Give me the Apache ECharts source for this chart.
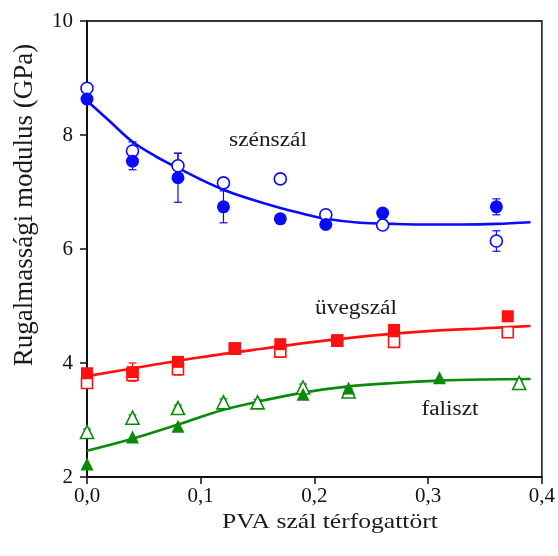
<!DOCTYPE html>
<html>
<head>
<meta charset="utf-8">
<script src="https://cdn.jsdelivr.net/npm/echarts@6/dist/echarts.min.js"></script>
<style>html,body{margin:0;padding:0;background:#fff;}#c{width:558px;height:556px;}</style>
</head>
<body>
<div id="c"></div>
<script>
// ---- data ----
const xTicks = [0, 0.1, 0.2, 0.3, 0.4];
const yTicks = [2, 4, 6, 8, 10];

const blueX = [0, 0.04, 0.08, 0.12, 0.17, 0.21, 0.26, 0.36];
const blueFilled = [8.63, 7.54, 7.25, 6.74, 6.53, 6.43, 6.63, 6.74];
const blueFilledErr = [0.05, 0.15, 0.43, 0.28, 0.06, 0.06, 0.06, 0.14];
const blueOpen = [8.82, 7.72, 7.46, 7.16, 7.23, 6.60, 6.42, 6.14];
const blueOpenErr = [0.05, 0.16, 0.22, 0.06, 0.06, 0.06, 0.08, 0.18];
const blueFitX = [0, 0.02, 0.04, 0.06, 0.08, 0.10, 0.12, 0.14, 0.17, 0.19, 0.21, 0.24, 0.27, 0.30, 0.33, 0.36, 0.39];
const blueFit = [8.60, 8.24, 7.88, 7.63, 7.42, 7.22, 7.04, 6.90, 6.72, 6.62, 6.53, 6.46, 6.44, 6.43, 6.43, 6.44, 6.47];

const redX = [0, 0.04, 0.08, 0.13, 0.17, 0.22, 0.27, 0.37];
const redFilled = [3.82, 3.84, 4.02, 4.26, 4.33, 4.40, 4.58, 4.82];
const redFilledErr = [0.05, 0.16, 0.05, 0.05, 0.05, 0.05, 0.05, 0.05];
const redOpen = [3.65, 3.79, 3.89, 4.25, 4.20, 4.39, 4.37, 4.54];
const redOpenErr = [0.05, 0.05, 0.10, 0.05, 0.05, 0.05, 0.05, 0.08];
const redFitX = [0, 0.05, 0.10, 0.15, 0.20, 0.25, 0.30, 0.35, 0.39];
const redFit = [3.77, 3.94, 4.10, 4.24, 4.37, 4.48, 4.56, 4.61, 4.65];

const greenFilledX = [0, 0.04, 0.08, 0.19, 0.23, 0.31];
const greenFilled = [2.23, 2.70, 2.89, 3.45, 3.56, 3.74];
const greenOpenX = [0, 0.04, 0.08, 0.12, 0.15, 0.19, 0.23, 0.38];
const greenOpen = [2.79, 3.04, 3.21, 3.31, 3.31, 3.57, 3.50, 3.65];
const greenOpenErr = [0.05, 0.05, 0.05, 0.06, 0.05, 0.06, 0.05, 0.05];
const greenFitX = [0, 0.04, 0.08, 0.12, 0.15, 0.19, 0.23, 0.27, 0.31, 0.35, 0.39];
const greenFit = [2.46, 2.67, 2.92, 3.18, 3.32, 3.48, 3.59, 3.65, 3.69, 3.71, 3.72];

const labels = ['szénszál', 'üvegszál', 'faliszt'];
const xTitle = 'PVA szál térfogattört';
const yTitle = 'Rugalmassági modulus (GPa)';

// ---- build ----
const BLUE = '#0a0aff', RED = '#ff1010', GREEN = '#0a8a0a';
const FONT = 'Liberation Serif';
const zip = (xs, ys) => xs.map((x, i) => [x, ys[i]]);
const zipErr = (xs, ys, es) => xs.map((x, i) => [x, ys[i] - es[i], ys[i] + es[i]]);

function errSeries(data, color) {
  return {
    type: 'custom', data: data, z: 2, silent: true,
    renderItem: function (params, api) {
      const lo = api.coord([api.value(0), api.value(1)]);
      const hi = api.coord([api.value(0), api.value(2)]);
      const w = 4;
      const st = { stroke: color, lineWidth: 1.2 };
      return { type: 'group', children: [
        { type: 'line', shape: { x1: lo[0], y1: lo[1], x2: hi[0], y2: hi[1] }, style: st },
        { type: 'line', shape: { x1: lo[0] - w, y1: lo[1], x2: lo[0] + w, y2: lo[1] }, style: st },
        { type: 'line', shape: { x1: hi[0] - w, y1: hi[1], x2: hi[0] + w, y2: hi[1] }, style: st }
      ]};
    }
  };
}
function fitSeries(data, color) {
  return { type: 'line', data: data, smooth: 0.35, showSymbol: false, z: 3,
    lineStyle: { color: color, width: 2.6 }, silent: true };
}
function openSeries(data, color, symbol, size) {
  return { type: 'scatter', data: data, symbol: symbol, symbolSize: size, z: 4,
    itemStyle: { color: '#fff', borderColor: color, borderWidth: 1.6, opacity: 1 } };
}
function filledSeries(data, color, symbol, size) {
  return { type: 'scatter', data: data, symbol: symbol, symbolSize: size, z: 5,
    itemStyle: { color: color, opacity: 1 } };
}
function txt(x, y, s, size, sx, rot) {
  return { type: 'text', x: x, y: y, scaleX: sx || 1, rotation: rot || 0,
    style: { text: s, font: size + 'px "Liberation Serif"', fill: '#1a1a1a', align: 'center', verticalAlign: 'middle' } };
}

const chart = echarts.init(document.getElementById('c'), null, { renderer: 'canvas' });
chart.setOption({
  animation: false,
  backgroundColor: '#fff',
  grid: { left: 87, right: 15, top: 21, bottom: 79, show: true, borderColor: '#333', borderWidth: 1.8, backgroundColor: 'transparent' },
  xAxis: {
    type: 'value', min: xTicks[0], max: xTicks[xTicks.length - 1], interval: 0.1,
    axisLine: { show: true, onZero: false, lineStyle: { color: '#111', width: 2 } },
    axisTick: { show: true, length: 7, lineStyle: { color: '#111', width: 1.5 } },
    splitLine: { show: false },
    axisLabel: { fontFamily: FONT, fontSize: 21, color: '#111', margin: 9,
      formatter: v => v.toFixed(1).replace('.', ',') }
  },
  yAxis: {
    type: 'value', min: yTicks[0], max: yTicks[yTicks.length - 1], interval: 2,
    axisLine: { show: true, onZero: false, lineStyle: { color: '#111', width: 2 } },
    axisTick: { show: true, length: 7, lineStyle: { color: '#111', width: 1.5 } },
    splitLine: { show: false },
    axisLabel: { fontFamily: FONT, fontSize: 21, color: '#111', margin: 14 }
  },
  graphic: [
    txt(268, 141, labels[0], 20, 1.17),
    txt(356, 309, labels[1], 20, 1.17),
    txt(450, 410, labels[2], 20, 1.17),
    txt(330, 522, xTitle, 21, 1.22),
    txt(25, 205, yTitle, 27, 1, Math.PI / 2)
  ],
  series: [
    errSeries(zipErr(blueX, blueOpen, blueOpenErr), BLUE),
    errSeries(zipErr(blueX, blueFilled, blueFilledErr), BLUE),
    errSeries(zipErr(redX, redOpen, redOpenErr), RED),
    errSeries(zipErr(redX, redFilled, redFilledErr), RED),
    errSeries(zipErr(greenOpenX, greenOpen, greenOpenErr), GREEN),
    fitSeries(zip(blueFitX, blueFit), BLUE),
    fitSeries(zip(redFitX, redFit), RED),
    fitSeries(zip(greenFitX, greenFit), GREEN),
    openSeries(zip(blueX, blueOpen), BLUE, 'circle', 12),
    openSeries(zip(redX, redOpen), RED, 'rect', 11),
    openSeries(zip(greenOpenX, greenOpen), GREEN, 'triangle', 13),
    filledSeries(zip(blueX, blueFilled), BLUE, 'circle', 13),
    filledSeries(zip(redX, redFilled), RED, 'rect', 12),
    filledSeries(zip(greenFilledX, greenFilled), GREEN, 'triangle', 13)
  ]
});
</script>
</body>
</html>
